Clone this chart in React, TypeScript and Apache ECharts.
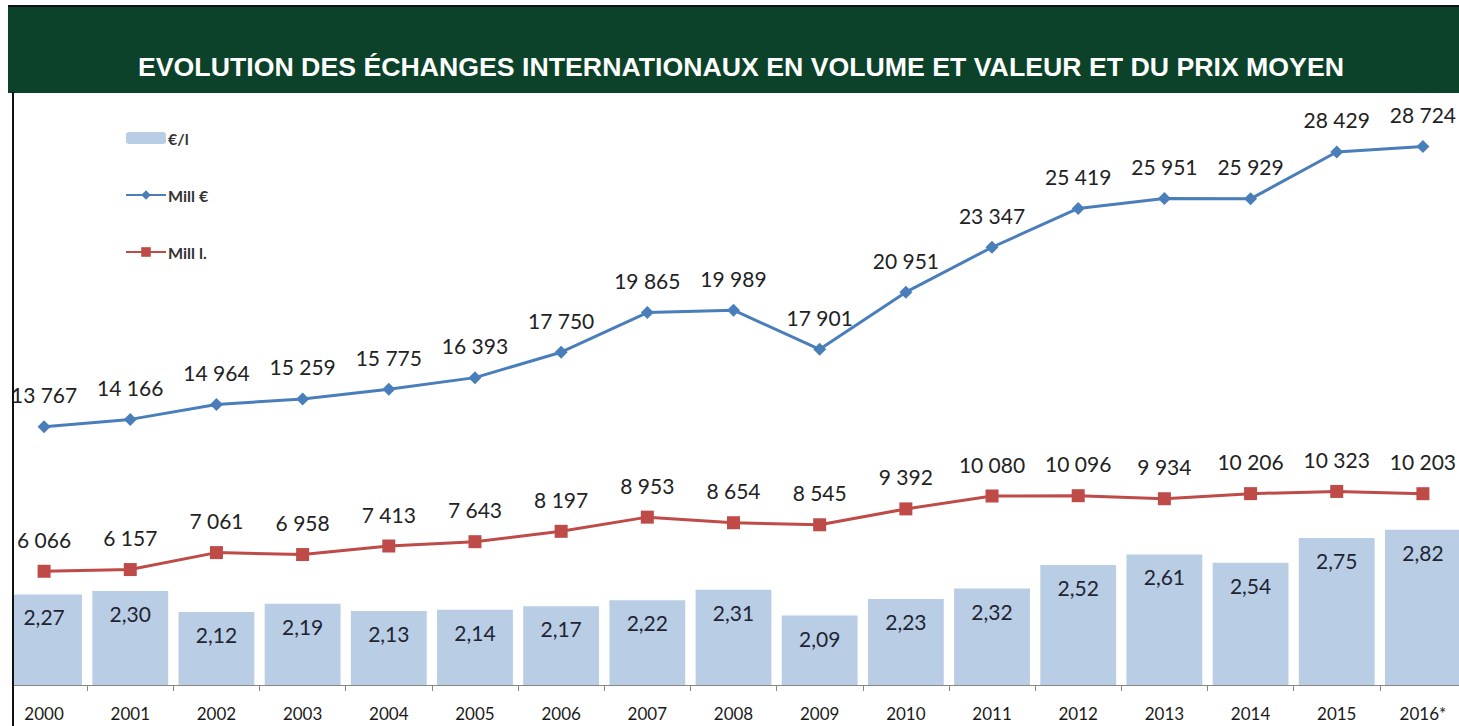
import React, { useEffect, useRef } from "react";
import * as echarts from "echarts";

const years = ["2000", "2001", "2002", "2003", "2004", "2005", "2006", "2007", "2008", "2009", "2010", "2011", "2012", "2013", "2014", "2015", "2016*"];
const prixLitre = [2.27, 2.30, 2.12, 2.19, 2.13, 2.14, 2.17, 2.22, 2.31, 2.09, 2.23, 2.32, 2.52, 2.61, 2.54, 2.75, 2.82];
const millEuros = [13767, 14166, 14964, 15259, 15775, 16393, 17750, 19865, 19989, 17901, 20951, 23347, 25419, 25951, 25929, 28429, 28724];
const millLitres = [6066, 6157, 7061, 6958, 7413, 7643, 8197, 8953, 8654, 8545, 9392, 10080, 10096, 9934, 10206, 10323, 10203];

const TITLE = "EVOLUTION DES ÉCHANGES INTERNATIONAUX EN VOLUME ET VALEUR ET DU PRIX MOYEN";

const fmtInt = (v: number) => String(v).replace(/\B(?=(\d{3})+(?!\d))/g, " ");
const fmtDec = (v: number) => v.toFixed(2).replace(".", ",");

export default function App() {
  const ref = useRef<HTMLDivElement>(null);
  useEffect(() => {
    if (!ref.current) return;
    const chart = echarts.init(ref.current, undefined, { renderer: "svg" });
    const labelFont = "Lato, 'Noto Sans', sans-serif";
    chart.setOption({
      animation: false,
      backgroundColor: "#ffffff",
      textStyle: { fontFamily: labelFont },
      legend: {
        orient: "vertical",
        left: 120,
        top: 125,
        itemWidth: 40,
        itemHeight: 12,
        itemGap: 41,
        textStyle: { fontSize: 16, fontWeight: "bold", color: "#333333", fontFamily: labelFont, padding: [0, 0, 0, -3] },
        data: ["€/l", "Mill €", "Mill l."],
      },
      grid: { left: 1, width: 1465, top: 85, height: 600, containLabel: false },
      xAxis: {
        type: "category",
        data: years,
        axisLine: { lineStyle: { color: "#878787", width: 1 } },
        axisTick: { show: true, length: 6, lineStyle: { color: "#878787" } },
        axisLabel: { color: "#1a1a1a", fontSize: 17, fontWeight: "normal", margin: 20, fontFamily: labelFont },
      },
      yAxis: [
        { type: "value", min: 1.5, max: 6.6, show: false, splitLine: { show: false } },
        { type: "value", min: 0, max: 32000, show: false, splitLine: { show: false } },
      ],
      series: [
        {
          name: "€/l",
          type: "bar",
          yAxisIndex: 0,
          data: prixLitre,
          barCategoryGap: "12%",
          itemStyle: { color: "#B9CDE5" },
          label: {
            show: true,
            position: "insideTop",
            distance: 12,
            fontSize: 21,
            color: "#1F2433",
            fontFamily: labelFont,
            formatter: (p: any) => fmtDec(p.value),
          },
          z: 1,
        },
        {
          name: "Mill €",
          type: "line",
          yAxisIndex: 1,
          data: millEuros,
          symbol: "diamond",
          symbolSize: 13,
          lineStyle: { color: "#4A7EBB", width: 3 },
          itemStyle: { color: "#4A7EBB" },
          label: {
            show: true,
            position: "top",
            distance: 15,
            fontSize: 21,
            color: "#222222",
            fontFamily: labelFont,
            formatter: (p: any) => fmtInt(p.value),
          },
          z: 3,
        },
        {
          name: "Mill l.",
          type: "line",
          yAxisIndex: 1,
          data: millLitres,
          symbol: "rect",
          symbolSize: 13,
          lineStyle: { color: "#BE4B48", width: 3 },
          itemStyle: { color: "#BE4B48" },
          label: {
            show: true,
            position: "top",
            distance: 15,
            fontSize: 21,
            color: "#222222",
            fontFamily: labelFont,
            formatter: (p: any) => fmtInt(p.value),
          },
          z: 3,
        },
      ],
      graphic: [
        { type: "rect", z: 100, shape: { x: 0, y: 0, width: 1480, height: 7 }, style: { fill: "#ffffff" } },
        { type: "rect", z: 101, shape: { x: 8, y: 5, width: 1470, height: 2 }, style: { fill: "#111111" } },
        { type: "rect", z: 101, shape: { x: 8, y: 7, width: 1470, height: 86 }, style: { fill: "#0B4229" } },
        {
          type: "text",
          z: 102,
          x: 741,
          y: 67,
          style: {
            text: TITLE,
            fill: "#ffffff",
            font: "bold 26.7px 'Liberation Sans', Arial, sans-serif",
            align: "center",
            verticalAlign: "middle",
          },
        },
        { type: "rect", z: 100, shape: { x: 0, y: 93, width: 12, height: 640 }, style: { fill: "#ffffff" } },
        { type: "rect", z: 101, shape: { x: 12, y: 92, width: 2, height: 640 }, style: { fill: "#111111" } },
      ],
    });
    return () => chart.dispose();
  }, []);
  return (
    <div style={{ position: "absolute", left: 0, top: 0, width: 1459, height: 726, overflow: "hidden" }}>
      <div ref={ref} style={{ width: 1475, height: 726 }} />
    </div>
  );
}
